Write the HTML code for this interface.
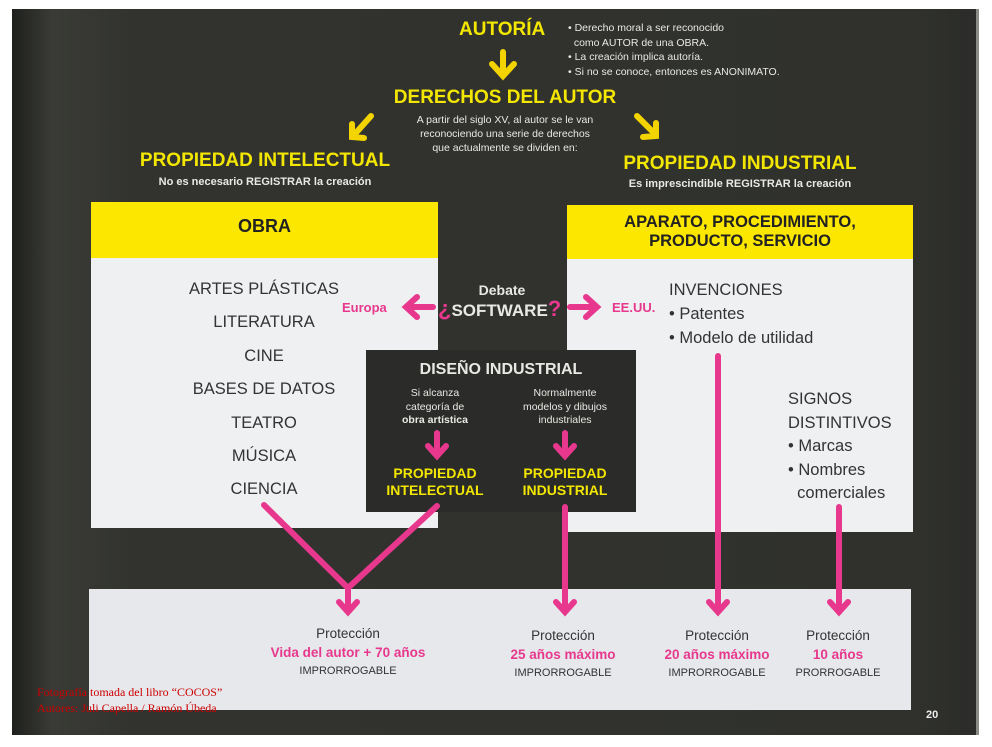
<!DOCTYPE html>
<html><head><meta charset="utf-8"><style>
body{margin:0;width:992px;height:747px;background:#fff;position:relative;overflow:hidden;font-family:"Liberation Sans",sans-serif}
.a{position:absolute;white-space:nowrap}
.c{text-align:center}
.y{color:#f3e600;font-weight:bold}
.w{color:#e8e8e4}
.p{color:#e8388d;font-weight:bold}
.g{color:#333}
</style></head><body>
<div class="a" style="left:12px;top:9px;width:966px;height:726px;background:linear-gradient(90deg,#1e201d 0,#3a3b36 40px,#32332f 120px,#30312d 900px,#2b2c29 966px)"></div>
<div class="a" style="left:976px;top:9px;width:3px;height:726px;background:#8a8a86"></div>
<svg class="a" style="left:0;top:0" width="992" height="747">
<g stroke="#f3d400" stroke-width="6" fill="none" stroke-linecap="round">
<path d="M503 52V74M492 64L503 76L514 64"/>
<path d="M371 116L354 135M352 124L352 137L364 138"/>
<path d="M637 116L655 134M643 137L656 136L656 123"/>
</g></svg>
<div class="a y" style="left:459px;top:19px;font-size:19px">AUTORÍA</div>
<div class="a w" style="left:568px;top:21px;font-size:10.5px;line-height:14.5px">• Derecho moral a ser reconocido<br>&nbsp;&nbsp;como AUTOR de una OBRA.<br>• La creación implica autoría.<br>• Si no se conoce, entonces es ANONIMATO.</div>
<div class="a y c" style="left:340px;width:330px;top:87px;font-size:19px">DERECHOS DEL AUTOR</div>
<div class="a w c" style="left:380px;width:250px;top:113px;font-size:10.5px;line-height:14px">A partir del siglo XV, al autor se le van<br>reconociendo una serie de derechos<br>que actualmente se dividen en:</div>
<div class="a y c" style="left:100px;width:330px;top:150px;font-size:19px">PROPIEDAD INTELECTUAL</div>
<div class="a w c" style="left:100px;width:330px;top:176px;font-size:11px;font-weight:bold">No es necesario REGISTRAR la creación</div>
<div class="a y c" style="left:575px;width:330px;top:153px;font-size:19px">PROPIEDAD INDUSTRIAL</div>
<div class="a w c" style="left:575px;width:330px;top:178px;font-size:11px;font-weight:bold">Es imprescindible REGISTRAR la creación</div>

<div class="a" style="left:91px;top:202px;width:347px;height:56px;background:#fbe700"></div>
<div class="a" style="left:91px;top:258px;width:347px;height:270px;background:#eef0f2"></div>
<div class="a" style="left:567px;top:205px;width:346px;height:54px;background:#fbe700"></div>
<div class="a" style="left:567px;top:259px;width:346px;height:273px;background:#eef0f2"></div>
<div class="a" style="left:366px;top:350px;width:270px;height:162px;background:#2b2b29"></div>
<div class="a" style="left:89px;top:589px;width:822px;height:121px;background:#e6e8ec"></div>

<div class="a c" style="left:91px;width:347px;top:216px;font-size:18px;font-weight:bold;color:#222">OBRA</div>
<div class="a c" style="left:567px;width:346px;top:213px;font-size:16.5px;font-weight:bold;color:#222;line-height:19px">APARATO, PROCEDIMIENTO,<br>PRODUCTO, SERVICIO</div>
<div class="a c g" style="left:150px;width:228px;top:273px;font-size:16.5px;line-height:33.4px">ARTES PLÁSTICAS<br>LITERATURA<br>CINE<br>BASES DE DATOS<br>TEATRO<br>MÚSICA<br>CIENCIA</div>
<div class="a g" style="left:669px;top:278px;font-size:16.5px;line-height:24px">INVENCIONES<br>• Patentes<br>• Modelo de utilidad</div>
<div class="a g" style="left:788px;top:388px;font-size:16.5px;line-height:23.5px">SIGNOS<br>DISTINTIVOS<br>• Marcas<br>• Nombres<br>&nbsp;&nbsp;comerciales</div>

<div class="a c w" style="left:440px;width:124px;top:282px;font-size:14px;font-weight:bold">Debate</div>
<div class="a w" style="left:438px;top:296px;font-size:17px;font-weight:bold"><span style="color:#e8388d;font-size:22px">¿</span>SOFTWARE<span style="color:#e8388d;font-size:22px">?</span></div>
<div class="a p" style="left:342px;top:300px;font-size:13px">Europa</div>
<div class="a p" style="left:612px;top:300px;font-size:13px">EE.UU.</div>
<div class="a c w" style="left:366px;width:270px;top:361px;font-size:16px;font-weight:bold">DISEÑO INDUSTRIAL</div>
<div class="a c w" style="left:370px;width:130px;top:387px;font-size:10.5px;line-height:13.5px">Si alcanza<br>categoría de<br><b>obra artística</b></div>
<div class="a c w" style="left:500px;width:130px;top:387px;font-size:10.5px;line-height:13.5px">Normalmente<br>modelos y dibujos<br>industriales</div>
<div class="a c y" style="left:370px;width:130px;top:465px;font-size:14px;line-height:17px">PROPIEDAD<br>INTELECTUAL</div>
<div class="a c y" style="left:500px;width:130px;top:465px;font-size:14px;line-height:17px">PROPIEDAD<br>INDUSTRIAL</div>

<svg class="a" style="left:0;top:0" width="992" height="747">
<g stroke="#e8388d" stroke-width="6" fill="none" stroke-linecap="round">
<path d="M433 307H408M417 297L406 307L417 317"/>
<path d="M570 307H595M586 297L597 307L586 317"/>
<path d="M437 433V453M428 446L437 456L446 446"/>
<path d="M565 433V453M556 446L565 456L574 446"/>
<path d="M264 505L348 588L437 506M348 588V610M339 602L348 612L357 602"/>
<path d="M565 507V610M556 602L565 612L574 602"/>
<path d="M718 356V610M709 602L718 612L727 602"/>
<path d="M839 507V610M830 602L839 612L848 602"/>
</g></svg>

<div class="a c" style="left:228px;width:240px;top:626px;font-size:13.5px;color:#333">Protección</div>
<div class="a c p" style="left:228px;width:240px;top:645px;font-size:13.5px">Vida del autor + 70 años</div>
<div class="a c" style="left:228px;width:240px;top:665px;font-size:11px;color:#333">IMPRORROGABLE</div>
<div class="a c" style="left:493px;width:140px;top:628px;font-size:13.5px;color:#333">Protección</div>
<div class="a c p" style="left:493px;width:140px;top:647px;font-size:13.5px">25 años máximo</div>
<div class="a c" style="left:493px;width:140px;top:667px;font-size:11px;color:#333">IMPRORROGABLE</div>
<div class="a c" style="left:647px;width:140px;top:628px;font-size:13.5px;color:#333">Protección</div>
<div class="a c p" style="left:647px;width:140px;top:647px;font-size:13.5px">20 años máximo</div>
<div class="a c" style="left:647px;width:140px;top:667px;font-size:11px;color:#333">IMPRORROGABLE</div>
<div class="a c" style="left:778px;width:120px;top:628px;font-size:13.5px;color:#333">Protección</div>
<div class="a c p" style="left:778px;width:120px;top:647px;font-size:13.5px">10 años</div>
<div class="a c" style="left:778px;width:120px;top:667px;font-size:11px;color:#333">PRORROGABLE</div>

<div class="a" style="left:37px;top:684px;font-family:'Liberation Serif',serif;font-size:12px;line-height:16px;color:#c00">Fotografía tomada del libro “COCOS”<br>Autores: Juli Capella / Ramón Úbeda</div>
<div class="a" style="left:926px;top:709px;font-size:11px;font-weight:bold;color:#eee">20</div>
</body></html>
